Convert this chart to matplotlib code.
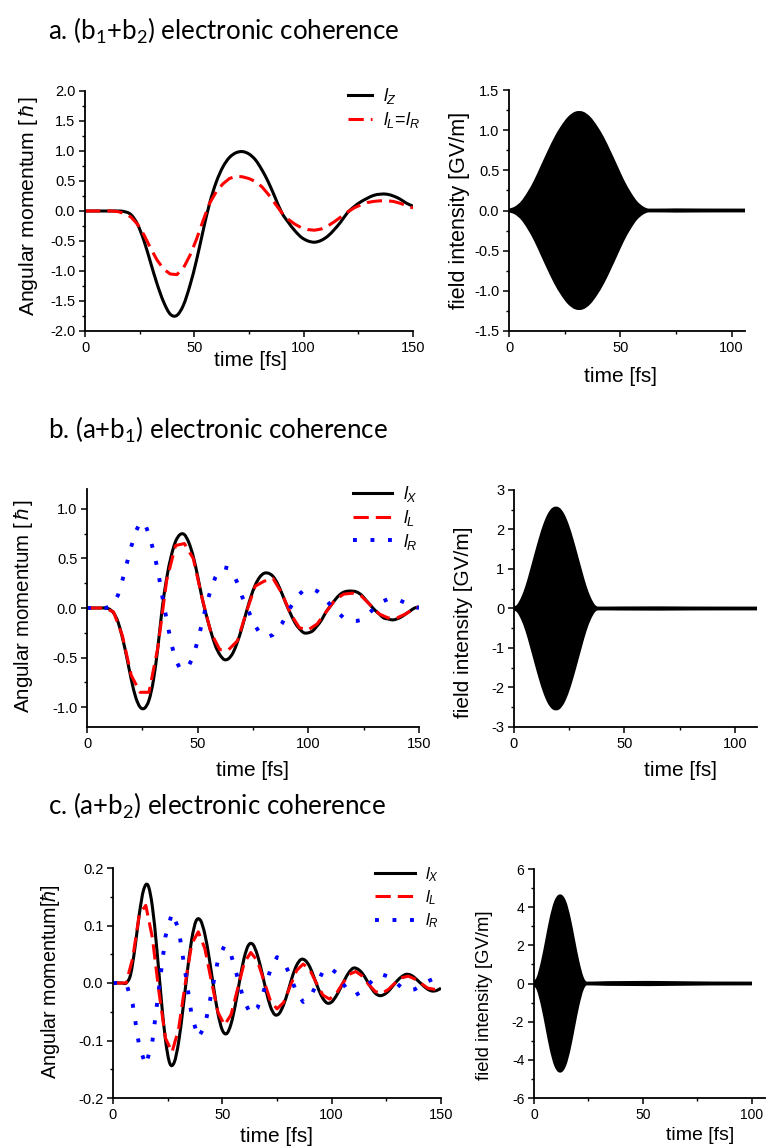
import numpy as np
import matplotlib
matplotlib.use("Agg")
import matplotlib.pyplot as plt
from matplotlib.path import Path
from matplotlib.patches import PathPatch
from matplotlib.lines import Line2D
from matplotlib.ticker import MultipleLocator, FormatStrFormatter

plt.rcParams['font.family'] = ['Liberation Sans', 'DejaVu Sans']
plt.rcParams['axes.unicode_minus'] = False
plt.rcParams['mathtext.fontset'] = 'custom'
plt.rcParams['mathtext.rm'] = 'Lato'
plt.rcParams['mathtext.it'] = 'Liberation Sans:italic'
plt.rcParams['mathtext.bf'] = 'Liberation Sans:bold'

# ---------------- data ----------------
# (a) b1+b2 coherence, sampled every 3 fs
t_a = np.arange(0, 151, 3)
lz_a = [0, 0, 0, 0, 0, 0, -0.01, -0.06, -0.22, -0.50, -0.86, -1.22, -1.52, -1.72,
        -1.74, -1.57, -1.24, -0.82, -0.33, 0.13, 0.48, 0.73, 0.89, 0.97, 0.99, 0.95,
        0.85, 0.68, 0.47, 0.22, -0.03, -0.19, -0.33, -0.44, -0.50, -0.52, -0.49, -0.42,
        -0.31, -0.18, -0.03, 0.07, 0.15, 0.21, 0.26, 0.28, 0.28, 0.25, 0.20, 0.13, 0.08]
lLR_a = [0, 0, 0, 0, 0, -0.01, -0.04, -0.10, -0.22, -0.40, -0.62, -0.82, -0.97, -1.05,
         -1.06, -0.95, -0.74, -0.47, -0.16, 0.13, 0.32, 0.45, 0.54, 0.58, 0.57, 0.54,
         0.49, 0.40, 0.27, 0.12, -0.03, -0.14, -0.22, -0.28, -0.31, -0.32, -0.30, -0.25,
         -0.18, -0.10, -0.02, 0.05, 0.10, 0.14, 0.16, 0.17, 0.17, 0.16, 0.13, 0.09, 0.05]

# (b) a+b1 coherence
t_b = np.arange(0, 151, 2)
lx_b = [0, 0, 0, 0, 0, -0.01, -0.05, -0.14, -0.30, -0.50, -0.72, -0.90, -1.00, -1.01,
        -0.93, -0.73, -0.40, 0.00, 0.30, 0.52, 0.67, 0.74, 0.74, 0.66, 0.52, 0.32, 0.10,
        -0.08, -0.24, -0.38, -0.47, -0.52, -0.51, -0.45, -0.34, -0.20, -0.04, 0.11, 0.23,
        0.31, 0.35, 0.35, 0.32, 0.25, 0.15, 0.04, -0.06, -0.15, -0.21, -0.25, -0.25,
        -0.23, -0.18, -0.12, -0.04, 0.02, 0.08, 0.13, 0.16, 0.17, 0.17, 0.16, 0.13, 0.08,
        0.03, -0.02, -0.06, -0.10, -0.11, -0.12, -0.11, -0.09, -0.06, -0.03, 0.00, 0.01]
lR_b = [0, 0, 0, 0, 0, 0.01, 0.05, 0.13, 0.28, 0.45, 0.62, 0.77, 0.86, 0.86, 0.74, 0.58,
        0.38, 0.12, -0.12, -0.35, -0.52, -0.61, -0.62, -0.58, -0.49, -0.33, -0.15, 0.04,
        0.19, 0.31, 0.39, 0.41, 0.40, 0.35, 0.25, 0.12, 0.01, -0.08, -0.18, -0.25, -0.28,
        -0.29, -0.27, -0.22, -0.16, -0.08, 0.01, 0.08, 0.14, 0.18, 0.19, 0.19, 0.17, 0.13,
        0.08, 0.03, -0.02, -0.06, -0.10, -0.12, -0.13, -0.13, -0.12, -0.08, -0.04, 0.00,
        0.04, 0.07, 0.09, 0.09, 0.09, 0.07, 0.05, 0.03, 0.01, 0.00]
t_bL = list(range(0, 149, 4)) + [150]
lL_b = [0, 0, 0, -0.04, -0.28, -0.68, -0.85, -0.85, -0.40, 0.28, 0.63, 0.65, 0.50, 0.10,
        -0.25, -0.42, -0.42, -0.33, -0.04, 0.22, 0.27, 0.30, 0.15, -0.06, -0.20, -0.22,
        -0.16, -0.04, 0.08, 0.14, 0.15, 0.12, 0.03, -0.06, -0.10, -0.10, -0.06, 0.00, 0.01]

# (c) a+b2 coherence
t_c = np.arange(0, 151, 2)
lx_c = [0, 0, 0, 0, 0.014, 0.060, 0.119, 0.162, 0.170, 0.133, 0.061, -0.025, -0.099,
        -0.140, -0.138, -0.103, -0.045, 0.020, 0.076, 0.108, 0.109, 0.085, 0.043, -0.007,
        -0.053, -0.082, -0.088, -0.071, -0.037, 0.006, 0.044, 0.066, 0.067, 0.049, 0.020,
        -0.013, -0.041, -0.055, -0.053, -0.038, -0.015, 0.011, 0.031, 0.041, 0.039, 0.028,
        0.009, -0.011, -0.027, -0.035, -0.033, -0.023, -0.009, 0.006, 0.019, 0.026, 0.024,
        0.017, 0.005, -0.008, -0.018, -0.022, -0.020, -0.014, -0.005, 0.004, 0.011, 0.015,
        0.014, 0.009, 0.002, -0.005, -0.011, -0.014, -0.013, -0.009]
t_c3 = np.arange(0, 151, 3)
lL_c = [0, 0, 0, 0.043, 0.119, 0.135, 0.079, -0.015, -0.096, -0.120, -0.080, -0.002,
        0.068, 0.089, 0.060, 0.003, -0.051, -0.073, -0.055, -0.010, 0.035, 0.053, 0.039,
        0.004, -0.031, -0.045, -0.034, -0.006, 0.022, 0.033, 0.023, 0.000, -0.021, -0.028,
        -0.019, -0.001, 0.015, 0.020, 0.012, -0.003, -0.015, -0.018, -0.011, 0.000, 0.009,
        0.012, 0.007, -0.001, -0.009, -0.011, -0.008]
lR_c = [0, 0, 0, -0.037, -0.110, -0.143, -0.102, -0.010, 0.081, 0.122, 0.094, 0.020,
        -0.057, -0.095, -0.075, -0.018, 0.040, 0.065, 0.049, 0.009, -0.032, -0.054, -0.044,
        -0.013, 0.023, 0.045, 0.038, 0.013, -0.017, -0.033, -0.026, -0.003, 0.020, 0.027,
        0.018, 0.000, -0.016, -0.021, -0.014, -0.002, 0.010, 0.015, 0.011, 0.002, -0.008,
        -0.013, -0.011, -0.004, 0.003, 0.008, 0.007]

# laser field envelopes (GV/m); the carrier is too fast to resolve, so the pulse is filled
tf_a = list(range(0, 64, 3)) + [110]
env_a = [0, 0.03, 0.10, 0.22, 0.37, 0.55, 0.73, 0.90, 1.04, 1.15, 1.21, 1.21, 1.15, 1.04,
         0.90, 0.73, 0.55, 0.37, 0.22, 0.10, 0.03, 0.0, 0.0]
tf_b = list(range(0, 39, 2)) + [110]
env_b = [0, 0.07, 0.27, 0.57, 0.96, 1.37, 1.77, 2.12, 2.38, 2.52, 2.52, 2.38, 2.12, 1.77,
         1.37, 0.96, 0.57, 0.27, 0.07, 0.0, 0.0]
tf_c = list(range(0, 25, 2)) + [100]
env_c = [0, 0.31, 1.15, 2.29, 3.44, 4.27, 4.58, 4.27, 3.44, 2.29, 1.15, 0.31, 0.0, 0.0]

titles = [r'a. (b$_1$+b$_2$) electronic coherence',
          r'b. (a+b$_1$) electronic coherence',
          r'c. (a+b$_2$) electronic coherence']

# ---------------- figure ----------------
W, H = 766, 1148
fig = plt.figure(figsize=(W / 100, H / 100), dpi=100)


def axes_px(x0, x1, ytop, ybot):
    return fig.add_axes([x0 / W, 1 - ybot / H, (x1 - x0) / W, (ybot - ytop) / H])


def hermite(x, y):
    """Cubic Hermite (Bezier) segments through every sample, x-monotone."""
    x = np.asarray(x, float)
    y = np.asarray(y, float)
    n = len(x)
    m = np.empty(n)
    m[0] = (y[1] - y[0]) / (x[1] - x[0])
    m[-1] = (y[-1] - y[-2]) / (x[-1] - x[-2])
    m[1:-1] = (y[2:] - y[:-2]) / (x[2:] - x[:-2])
    verts = [(x[0], y[0])]
    for i in range(n - 1):
        h = x[i + 1] - x[i]
        verts += [(x[i] + h / 3, y[i] + m[i] * h / 3),
                  (x[i + 1] - h / 3, y[i + 1] - m[i + 1] * h / 3),
                  (x[i + 1], y[i + 1])]
    return verts


def smooth_line(ax, x, y, **kw):
    verts = hermite(x, y)
    codes = [Path.MOVETO] + [Path.CURVE4] * (len(verts) - 1)
    ax.add_patch(PathPatch(Path(verts, codes), fill=False, capstyle='butt',
                           joinstyle='round', **kw))


def pulse(ax, x, env):
    up = hermite(x, env)
    lo = hermite(x[::-1], [-v for v in env[::-1]])
    verts = up + lo[1:] + [up[0]]
    codes = ([Path.MOVETO] + [Path.CURVE4] * (len(up) - 1) +
             [Path.CURVE4] * (len(lo) - 1) + [Path.CLOSEPOLY])
    ax.add_patch(PathPatch(Path(verts, codes), facecolor='black', edgecolor='none'))
    smooth_line(ax, x, env, color='black', lw=2.5)
    smooth_line(ax, x, [-v for v in env], color='black', lw=2.5)


def style(ax, xlim, ylim, xmaj, ymaj, yfmt, tsize=10.5):
    ax.set_xlim(*xlim)
    ax.set_ylim(*ylim)
    for s in ('top', 'right'):
        ax.spines[s].set_visible(False)
    for s in ('left', 'bottom'):
        ax.spines[s].set_linewidth(1.3)
    ax.xaxis.set_major_locator(MultipleLocator(xmaj))
    ax.xaxis.set_minor_locator(MultipleLocator(xmaj / 2))
    ax.yaxis.set_major_locator(MultipleLocator(ymaj))
    ax.yaxis.set_minor_locator(MultipleLocator(ymaj / 2))
    ax.yaxis.set_major_formatter(FormatStrFormatter(yfmt))
    ax.tick_params(which='major', direction='out', length=4.5, width=1.1,
                   labelsize=tsize, pad=2.5)
    ax.tick_params(which='minor', direction='out', length=2.5, width=1.0)


def label_at(ax, xlab, ylab, xpos, ypos, xsize, ysize):
    # xpos / ypos are figure pixel centres of the two axis titles
    ax.set_xlabel(xlab, fontsize=xsize)
    ax.set_ylabel(ylab, fontsize=ysize)
    inv = ax.transAxes.inverted()
    xc = inv.transform(fig.transFigure.transform((xpos[0] / W, 1 - xpos[1] / H)))
    yc = inv.transform(fig.transFigure.transform((ypos[0] / W, 1 - ypos[1] / H)))
    ax.xaxis.set_label_coords(xc[0], xc[1])
    ax.yaxis.set_label_coords(yc[0], yc[1])
    ax.xaxis.label.set_va('center')
    ax.yaxis.label.set_va('center')


def legend_at(ax, handles, labels, x, y, hlen, size, spacing):
    ax.legend(handles, labels, loc='upper left', bbox_to_anchor=(x / W, 1 - y / H),
              bbox_transform=fig.transFigure, frameon=False, borderpad=0,
              borderaxespad=0, handlelength=hlen, handletextpad=0.6,
              labelspacing=spacing, fontsize=size)


solid = dict(color='black', lw=2.2)
dash = dict(color='#ff0000', lw=2.2, ls=(0, (5, 2.3)))
dot = dict(color='#0000ff', lw=2.8, ls=(0, (1.0, 3.5)))
lab = lambda s: r'$\mathit{l}_{\mathit{' + s + '}}$'
h_solid = Line2D([], [], **solid)
h_dash = Line2D([], [], **dash)
h_dot = Line2D([], [], **dot)

# titles
for txt, y in zip(titles, [31, 430, 806]):
    fig.text(48 / W, 1 - y / H, txt, fontsize=18.6, family='Lato', va='center', ha='left')

# ---- row a ----
ax = axes_px(85, 413, 91, 331)
smooth_line(ax, t_a, lz_a, **solid)
ax.plot(t_a, lLR_a, **dash)
style(ax, (0, 150), (-2.0, 2.0), 50, 0.5, '%.1f')
label_at(ax, 'time [fs]', r'Angular momentum [$\,\hbar\,$]', (250, 361), (28, 206), 15, 15.2)
legend_at(ax, [h_solid, h_dash], [lab('Z'), lab('L') + '=' + lab('R')],
          348, 86.5, 1.33, 13, 0.19)

ax = axes_px(509, 745, 90, 331)
pulse(ax, tf_a, env_a)
style(ax, (0, 106), (-1.5, 1.5), 50, 0.5, '%.1f')
label_at(ax, 'time [fs]', 'field intensity [GV/m]', (620, 376), (459, 210), 15, 15.5)

# ---- row b ----
ax = axes_px(87, 419, 489, 727)
smooth_line(ax, t_b, lx_b, **solid)
ax.plot(t_bL, lL_b, **dash)
ax.plot(t_b, lR_b, **dot)
style(ax, (0, 150), (-1.2, 1.2), 50, 0.5, '%.1f')
label_at(ax, 'time [fs]', r'Angular momentum [$\,\hbar\,$]', (252, 770), (24, 606), 15, 14.8)
legend_at(ax, [h_solid, h_dash, h_dot], [lab('X'), lab('L'), lab('R')],
          353, 484.5, 2.17, 13, 0.2)

ax = axes_px(514, 757, 490, 727)
pulse(ax, tf_b, env_b)
style(ax, (0, 110), (-3, 3), 50, 1, '%d')
label_at(ax, 'time [fs]', 'field intensity [GV/m]', (680, 770), (464, 622), 15, 15)

# ---- row c ----
ax = axes_px(113, 441, 868, 1098)
smooth_line(ax, t_c, lx_c, **solid)
ax.plot(t_c3, lL_c, **dash)
ax.plot(t_c3, lR_c, **dot)
style(ax, (0, 150), (-0.2, 0.2), 50, 0.1, '%.1f')
label_at(ax, 'time [fs]', r'Angular momentum[$\hbar$]', (276, 1136), (51, 982), 15, 14.2)
legend_at(ax, [h_solid, h_dash, h_dot], [lab('X'), lab('L'), lab('R')],
          375, 865, 2.4, 12, 0.27)

ax = axes_px(534, 765, 869, 1098)
pulse(ax, tf_c, env_c)
style(ax, (0, 106), (-6, 6), 50, 2, '%d', tsize=10)
label_at(ax, 'time [fs]', 'field intensity [GV/m]', (700, 1135), (485, 995), 14, 13.3)

fig.savefig('out.png', dpi=100)
